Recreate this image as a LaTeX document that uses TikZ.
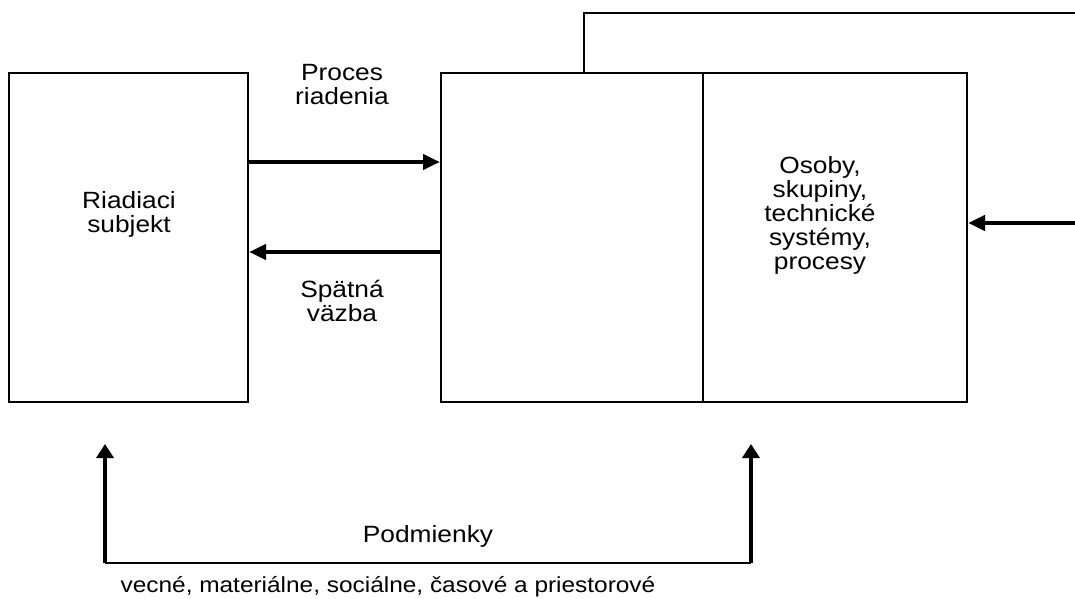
\documentclass[tikz,border=0pt]{standalone}
\usepackage{fontspec}
\setmainfont[FakeStretch=1.12]{Liberation Sans}
\usetikzlibrary{arrows.meta,calc}
\begin{document}
\begin{tikzpicture}[x=1pt,y=-1pt,
  box/.style={draw=black,line width=2pt,rectangle,inner sep=0pt},
  arr/.style={line width=4.5pt,-{Triangle[length=17pt,width=15pt]}},
  varr/.style={line width=4.5pt,-{Triangle[length=14pt,width=17pt]}},
  thinline/.style={line width=2pt},
  lbl/.style={align=center,inner sep=0pt,font=\fontsize{23.5}{24}\selectfont}]
\useasboundingbox[fill=white] (0,0) rectangle (1075,599);
% boxes
\node[box,minimum width=239pt,minimum height=329pt] (rs) at (128.5,237.5) {};
\node[box,minimum width=262pt,minimum height=329pt] (mid) at (572,237.5) {};
\node[box,minimum width=264pt,minimum height=329pt] (right) at (835,237.5) {};
% free ends
\coordinate (topend) at (1075,13);
\coordinate (rin) at (1075,223);
\coordinate (b1) at (105,563);
\coordinate (b2) at (751,563);
% texts
\node[lbl] (t1) at (129,214) {Riadiaci\\subjekt};
\node[lbl] (t2) at (342,85) {Proces\\riadenia};
\node[lbl] (t3) at (342,301) {Spätná\\väzba};
\node[lbl] (t4) at (820,215) {Osoby,\\skupiny,\\technické\\systémy,\\procesy};
\node[lbl] (t5) at (428,536) {Podmienky};
\node[lbl,font=\fontsize{21.8}{24}\selectfont] (t6) at (388,587) {vecné, materiálne, sociálne, časové a priestorové};
% connectors
\draw[arr] (rs.east |- 0,162) -- (mid.west |- 0,162);
\draw[arr] (mid.west |- 0,252) -- (rs.east |- 0,252);
\draw[thinline] (mid.north -| 584,0) |- (topend);
\draw[arr] (rin) -- (right.east |- rin);
\draw[thinline] (b1) -- (b2);
\draw[varr,shorten >=41pt] (b1) -- (b1 |- rs.south);
\draw[varr,shorten >=41pt] (b2) -- (b2 |- mid.south);
\end{tikzpicture}
\end{document}
